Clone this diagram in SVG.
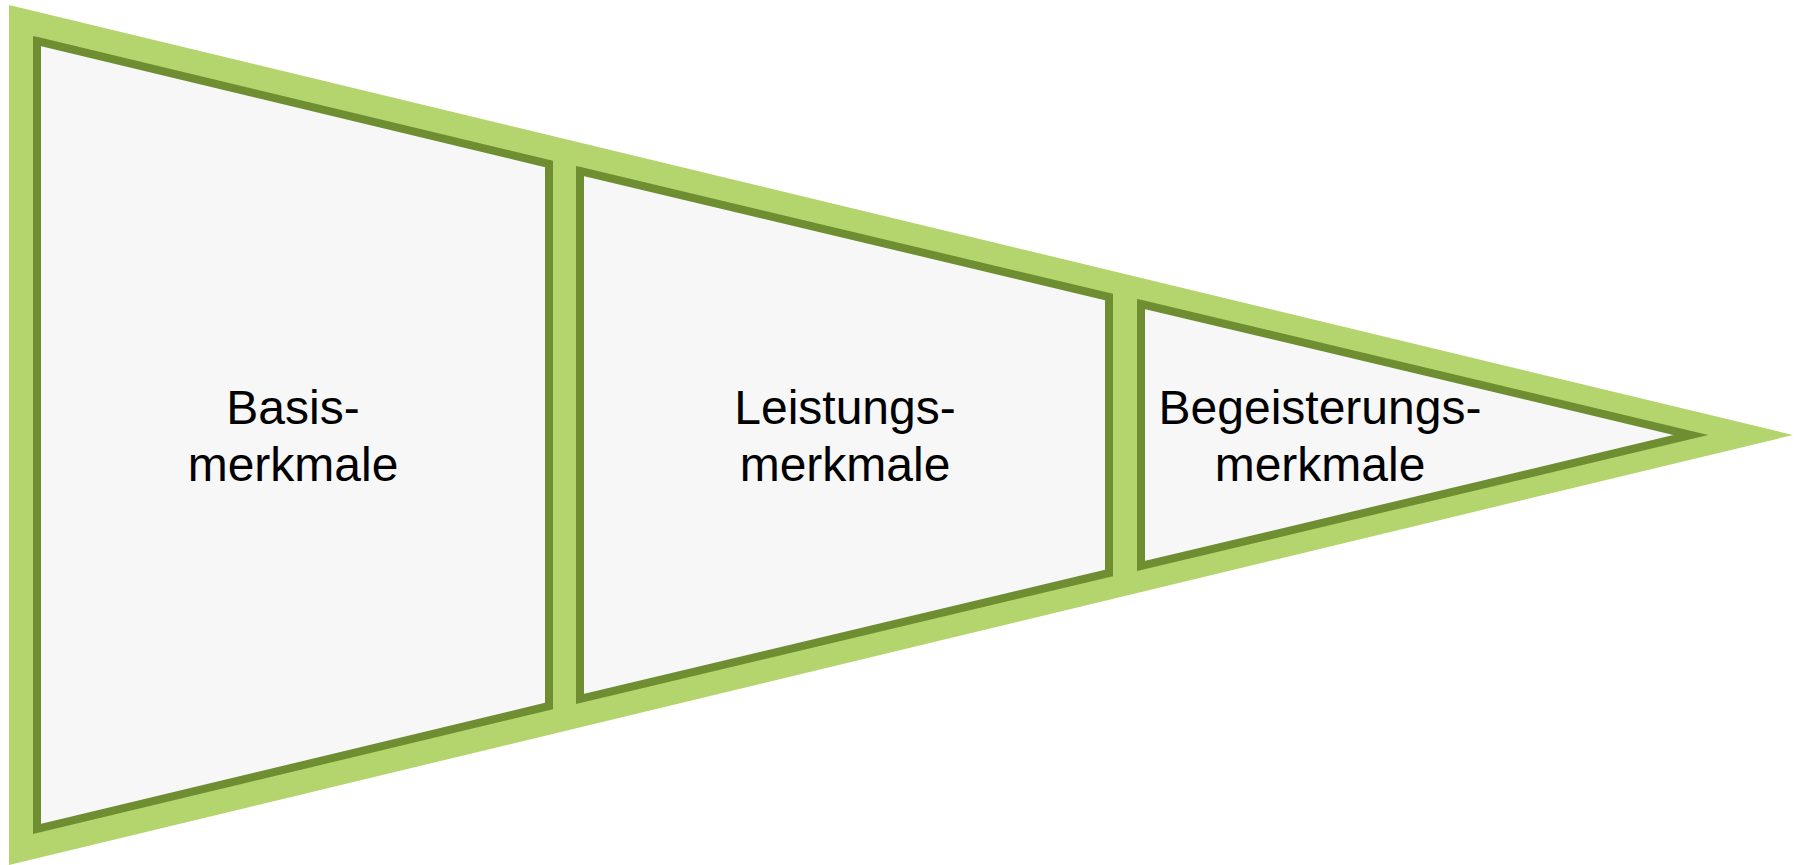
<svg xmlns="http://www.w3.org/2000/svg" width="1795" height="865" viewBox="0 0 1795 865">
<style>
.outer{fill:#B4D46E;stroke:none}
.seg{fill:#F7F7F7;stroke:#6F8E31;stroke-width:8;stroke-linejoin:miter;stroke-miterlimit:10}
.lbl{font-family:"Liberation Sans",Arial,sans-serif;font-size:48px;fill:#000;text-anchor:middle}
</style>
<rect width="1795" height="865" fill="#FFFFFF"/>
<g id="outer-shape"><polygon class="outer" points="9,5 1793,435 9,865"/></g>
<g id="basis">
<polygon class="seg" points="37,41 549,164 549,706 37,829"/>
<text class="lbl" x="293" y="424">Basis-</text>
<text class="lbl" x="293" y="481">merkmale</text>
</g>
<g id="leistung">
<polygon class="seg" points="580,171 1109,297 1109,573 580,699"/>
<text class="lbl" x="845" y="424">Leistungs-</text>
<text class="lbl" x="845" y="481">merkmale</text>
</g>
<g id="begeisterung">
<polygon class="seg" points="1141,304 1691,435 1141,566"/>
<text class="lbl" x="1320" y="424">Begeisterungs-</text>
<text class="lbl" x="1320" y="481">merkmale</text>
</g>
<g id="connectors"></g>
</svg>
